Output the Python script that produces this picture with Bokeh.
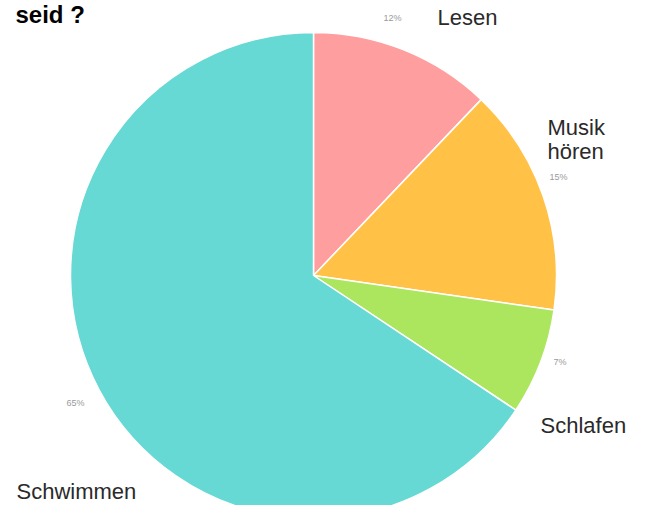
import math
from bokeh.plotting import figure
from bokeh.models import Range1d, ColumnDataSource
from bokeh.core.properties import value
from bokeh.embed import file_html
from bokeh.resources import INLINE

# Data
categories = ["Lesen", "Musik hören", "Schlafen", "Schwimmen"]
percents = [12, 15, 7, 65]
colors = ["#FF9E9E", "#FFC247", "#ACE65E", "#67D9D4"]

W, H = 634, 505
p = figure(width=W, height=H, output_backend="svg", toolbar_location=None,
           x_range=Range1d(0, W), y_range=Range1d(0, H), min_border=0)
p.axis.visible = False
p.grid.visible = False
p.outline_line_color = None
p.background_fill_color = "white"

DY = 5

def sx(x):
    return x

def sy(y):
    return H - (y - DY)

cx, cy, r = sx(313), sy(280), 243
total = sum(percents)
starts, ends = [], []
a = math.pi / 2
for v in percents:
    ang = v / total * 2 * math.pi
    starts.append(a - ang)
    ends.append(a)
    a -= ang

src = ColumnDataSource(dict(start=starts, end=ends, color=colors, cat=categories))
p.wedge(x=cx, y=cy, radius=r, start_angle="start", end_angle="end",
        fill_color="color", line_color="white", line_width=1.5, source=src)

font = value("Liberation Sans")

# category labels (screen positions)
name_lines = [["Lesen"], ["Musik", "hören"], ["Schlafen"], ["Schwimmen"]]
name_pos = [(437, 22), (547, 132), (540, 430), (16, 496)]
pct_pos = [(383, 22), (549, 181), (553, 366), (66, 407)]

for lines, (x, y) in zip(name_lines, name_pos):
    for i, t in enumerate(lines):
        p.text(x=[sx(x)], y=[sy(y + i * 24)], text=[t], text_font=font,
               text_font_size="22px", text_color="#2a2a2a",
               text_baseline="middle", text_align="left")

for v, (x, y) in zip(percents, pct_pos):
    p.text(x=[sx(x)], y=[sy(y)], text=[f"{v}%"], text_font=font,
           text_font_size="9px", text_color="#9a9a9a",
           text_baseline="middle", text_align="left")

# title (top line of the original is outside the picture)
p.text(x=[sx(15)], y=[H], text=["seid ?"], text_font=font,
       text_font_style="bold", text_font_size="24px", text_color="#000000",
       text_baseline="top", text_align="left")

open("out.html", "w").write(file_html(p, INLINE))
